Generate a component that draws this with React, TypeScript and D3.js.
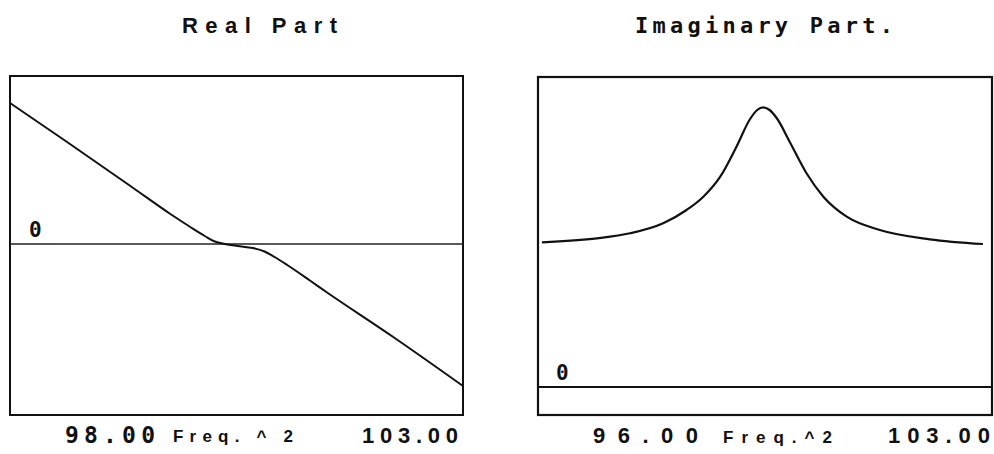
import React from "react";
import * as d3 from "d3";

// Real part of the response, sampled against frequency squared
const realFreq = [98.0, 98.63, 99.36, 99.77, 99.99, 100.15, 100.26, 100.37, 100.51, 100.68, 100.81, 100.92, 101.06, 101.31, 101.5, 102.23, 103.0];
const realValue = [1.41, 1.02, 0.56, 0.3, 0.17, 0.08, 0.025, 0.0, -0.02, -0.04, -0.075, -0.13, -0.21, -0.365, -0.485, -0.93, -1.42];

// Imaginary part of the response
const imagFreq = [96.06, 96.91, 97.42, 97.93, 98.29, 98.55, 98.81, 99.06, 99.27, 99.38, 99.47, 99.57, 99.68, 99.89, 100.14, 100.4, 100.76, 101.27, 102.04, 102.86];
const imagValue = [1.447, 1.487, 1.537, 1.637, 1.77, 1.903, 2.103, 2.403, 2.68, 2.77, 2.797, 2.77, 2.69, 2.44, 2.137, 1.903, 1.703, 1.57, 1.477, 1.43];

// Axis ranges and labels
const realXDomain = [98, 103];
const realYDomain = [-1.71, 1.68];
const imagXDomain = [96, 103];
const imagYDomain = [-0.28, 3.1];

const realTickLabels = ["98.00", "103.00"];
const imagTickLabels = ["96.00", "103.00"];
const realAxisName = "Freq. ^ 2";
const imagAxisName = "Freq.^2";
const titles = ["Real Part", "Imaginary Part."];
const zeroLabel = "0";

const W = 994;
const H = 454;

export default function App() {
  // Left panel scales
  const xr = d3.scaleLinear().domain(realXDomain).range([10, 463]);
  const yr = d3.scaleLinear().domain(realYDomain).range([415, 76]);
  // Right panel scales
  const xi = d3.scaleLinear().domain(imagXDomain).range([538, 992]);
  const yi = d3.scaleLinear().domain(imagYDomain).range([415, 77]);

  const realPts: [number, number][] = realFreq.map((f, i) => [f, realValue[i]]);
  const imagPts: [number, number][] = imagFreq.map((f, i) => [f, imagValue[i]]);

  const realLine = d3
    .line<[number, number]>()
    .x((d) => xr(d[0]))
    .y((d) => yr(d[1]))
    .curve(d3.curveMonotoneX);
  const imagLine = d3
    .line<[number, number]>()
    .x((d) => xi(d[0]))
    .y((d) => yi(d[1]))
    .curve(d3.curveMonotoneX);

  const [rx0, rx1] = xr.range();
  const [ry0, ry1] = yr.range();
  const [ix0, ix1] = xi.range();
  const [iy0, iy1] = yi.range();

  const sans = "'Liberation Sans', Arial, sans-serif";
  const mono = "'DejaVu Sans Mono', monospace";

  return (
    <svg
      width={W}
      height={H}
      viewBox={`0 0 ${W} ${H}`}
      style={{ position: "absolute", left: 0, top: 0, background: "#fff" }}
    >
      {/* titles */}
      <text x={182} y={33} fontFamily={sans} fontWeight="bold" fontSize={22} textLength={155} lengthAdjust="spacing" fill="#111">
        {titles[0]}
      </text>
      <text x={635} y={33} fontFamily={mono} fontWeight="bold" fontSize={22} textLength={258} lengthAdjust="spacing" fill="#111">
        {titles[1]}
      </text>

      {/* left panel */}
      <rect x={rx0} y={ry1} width={rx1 - rx0} height={ry0 - ry1} fill="none" stroke="#111" strokeWidth={2} />
      <line x1={rx0} x2={rx1} y1={yr(0)} y2={yr(0)} stroke="#222" strokeWidth={1.5} />
      <text x={29} y={237} fontFamily={mono} fontWeight="bold" fontSize={21} fill="#111">
        {zeroLabel}
      </text>
      <path d={realLine(realPts) ?? ""} fill="none" stroke="#111" strokeWidth={2} />
      <text x={65} y={443} fontFamily={mono} fontWeight="bold" fontSize={23} textLength={90} lengthAdjust="spacing" fill="#111">
        {realTickLabels[0]}
      </text>
      <text x={173} y={442} fontFamily={sans} fontWeight="bold" fontSize={17} textLength={120} lengthAdjust="spacing" fill="#111">
        {realAxisName}
      </text>
      <text x={362} y={443} fontFamily={sans} fontWeight="bold" fontSize={22} textLength={96} lengthAdjust="spacing" fill="#111">
        {realTickLabels[1]}
      </text>

      {/* right panel */}
      <rect x={ix0} y={iy1} width={ix1 - ix0} height={iy0 - iy1} fill="none" stroke="#111" strokeWidth={2.2} />
      <line x1={ix0} x2={ix1} y1={yi(0)} y2={yi(0)} stroke="#111" strokeWidth={2} />
      <text x={556} y={380} fontFamily={mono} fontWeight="bold" fontSize={21} fill="#111">
        {zeroLabel}
      </text>
      <path d={imagLine(imagPts) ?? ""} fill="none" stroke="#111" strokeWidth={2.2} />
      <text x={593} y={443} fontFamily={sans} fontWeight="bold" fontSize={22} textLength={105} lengthAdjust="spacing" fill="#111">
        {imagTickLabels[0]}
      </text>
      <text x={723} y={443} fontFamily={sans} fontWeight="bold" fontSize={17} textLength={109} lengthAdjust="spacing" fill="#111">
        {imagAxisName}
      </text>
      <text x={888} y={443} fontFamily={sans} fontWeight="bold" fontSize={22} textLength={102} lengthAdjust="spacing" fill="#111">
        {imagTickLabels[1]}
      </text>
    </svg>
  );
}
